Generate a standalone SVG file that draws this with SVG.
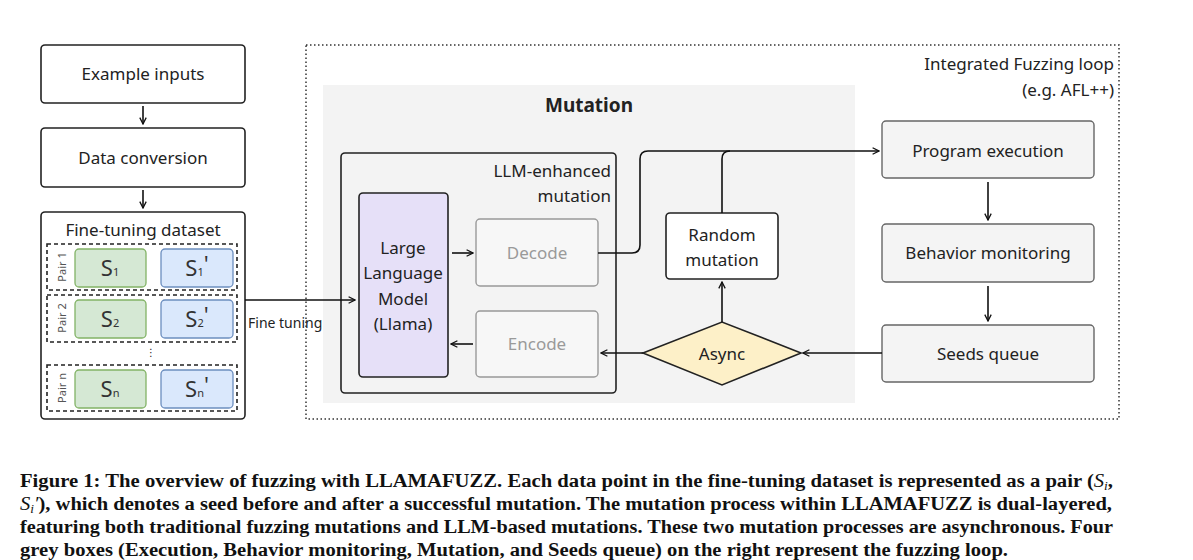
<svg xmlns="http://www.w3.org/2000/svg" width="1193" height="560" viewBox="0 0 1193 560">
<style>
text{font-family:"Noto Sans","Open Sans","DejaVu Sans",sans-serif;fill:#222}
.lbl{font-size:17px;text-anchor:middle}
.box{fill:#fff;stroke:#222;stroke-width:1.6}
.grey{fill:#f4f4f4;stroke:#666;stroke-width:1.4}
.dec{fill:#f7f7f7;stroke:#999;stroke-width:1.4}
.dectx{fill:#9a9a9a}
.green{fill:#d5e8d4;stroke:#82b366;stroke-width:1.3}
.blue{fill:#dae8fc;stroke:#6c8ebf;stroke-width:1.3}
.pair{fill:none;stroke:#222;stroke-width:1.6;stroke-dasharray:4 3}
.pl{font-size:11px;fill:#555;text-anchor:middle}
.s{font-size:22px;text-anchor:middle;fill:#333}
.sub{font-size:11px}
.line{fill:none;stroke:#111;stroke-width:1.6}
.cap{font-family:"Liberation Serif","Times New Roman",serif;font-weight:bold;font-size:18.5px;fill:#111}
</style>
<defs>
<marker id="ah" viewBox="0 0 10 10" refX="9" refY="5" markerWidth="8" markerHeight="8" markerUnits="userSpaceOnUse" orient="auto">
<path d="M1,1 L9,5 L1,9" fill="none" stroke="#111" stroke-width="1.6"/>
</marker>
</defs>
<rect width="1193" height="560" fill="#fff"/>

<g id="fuzzing-loop">
<rect x="306" y="45" width="813" height="374" fill="none" stroke="#333" stroke-width="1.5" stroke-dasharray="1.5 2.5"/>
<text x="1114" y="70" font-size="17" text-anchor="end">Integrated Fuzzing loop</text>
<text x="1114" y="96" font-size="17" text-anchor="end">(e.g. AFL++)</text>
</g>

<g id="mutation">
<rect x="323" y="85" width="532" height="318" fill="#f3f3f3"/>
<text x="589" y="112" font-size="19" font-weight="bold" text-anchor="middle">Mutation</text>
</g>

<g id="llm-enhanced">
<rect x="341" y="153" width="275" height="240" rx="4" style="fill:none;stroke:#222;stroke-width:1.6"/>
<text x="611" y="177" font-size="17" text-anchor="end">LLM-enhanced</text>
<text x="611" y="202" font-size="17" text-anchor="end">mutation</text>
</g>

<g id="example-inputs">
<rect x="41" y="45" width="204" height="58" rx="4" class="box"/>
<text x="143" y="80" class="lbl">Example inputs</text>
</g>
<g id="data-conversion">
<rect x="41" y="128" width="204" height="59" rx="4" class="box"/>
<text x="143" y="164" class="lbl">Data conversion</text>
</g>

<g id="fine-tuning-dataset">
<rect x="41" y="212" width="204" height="207" rx="4" class="box"/>
<text x="143" y="236" class="lbl">Fine-tuning dataset</text>
<rect x="47" y="244" width="190" height="46" class="pair"/>
<text transform="translate(66,267) rotate(-90)" class="pl">Pair 1</text>
<rect x="75" y="249" width="71" height="38" rx="4" class="green"/>
<text x="110" y="276" class="s">S<tspan class="sub">1</tspan></text>
<rect x="161" y="249" width="72" height="38" rx="4" class="blue"/>
<text x="197" y="276" class="s">S<tspan class="sub">1</tspan><tspan dy="-4">'</tspan></text>

<rect x="47" y="295" width="190" height="47" class="pair"/>
<text transform="translate(66,318) rotate(-90)" class="pl">Pair 2</text>
<rect x="75" y="300" width="71" height="38" rx="4" class="green"/>
<text x="110" y="327" class="s">S<tspan class="sub">2</tspan></text>
<rect x="161" y="300" width="72" height="38" rx="4" class="blue"/>
<text x="197" y="327" class="s">S<tspan class="sub">2</tspan><tspan dy="-4">'</tspan></text>

<text x="151" y="356" font-size="10" text-anchor="middle" fill="#555">⋮</text>

<rect x="47" y="365" width="190" height="46" class="pair"/>
<text transform="translate(66,388) rotate(-90)" class="pl">Pair n</text>
<rect x="75" y="370" width="71" height="38" rx="4" class="green"/>
<text x="110" y="397" class="s">S<tspan class="sub">n</tspan></text>
<rect x="161" y="370" width="72" height="38" rx="4" class="blue"/>
<text x="197" y="397" class="s">S<tspan class="sub">n</tspan><tspan dy="-4">'</tspan></text>
</g>

<g id="llm">
<rect x="359" y="193" width="89" height="184" rx="4" fill="#e6e0f8" stroke="#222" stroke-width="1.6"/>
<text x="403" y="254" class="lbl">Large</text>
<text x="403" y="279" class="lbl">Language</text>
<text x="403" y="305" class="lbl">Model</text>
<text x="403" y="330" class="lbl">(Llama)</text>
</g>

<g id="decode">
<rect x="476" y="219" width="122" height="67" rx="4" class="dec"/>
<text x="537" y="259" class="lbl dectx">Decode</text>
</g>
<g id="encode">
<rect x="476" y="311" width="122" height="66" rx="4" class="dec"/>
<text x="537" y="350" class="lbl dectx">Encode</text>
</g>

<g id="random-mutation">
<rect x="666" y="213" width="112" height="66" rx="4" class="box"/>
<text x="722" y="241" class="lbl">Random</text>
<text x="722" y="266" class="lbl">mutation</text>
</g>

<g id="async">
<polygon points="643,353 722,322 801,353 722,385" fill="#fdf0c8" stroke="#222" stroke-width="1.6"/>
<text x="722" y="360" class="lbl">Async</text>
</g>

<g id="program-execution">
<rect x="882" y="121" width="212" height="57" rx="4" class="grey"/>
<text x="988" y="157" class="lbl">Program execution</text>
</g>
<g id="behavior-monitoring">
<rect x="882" y="224" width="212" height="58" rx="4" class="grey"/>
<text x="988" y="259" class="lbl">Behavior monitoring</text>
</g>
<g id="seeds-queue">
<rect x="882" y="325" width="212" height="57" rx="4" class="grey"/>
<text x="988" y="360" class="lbl">Seeds queue</text>
</g>

<g id="connectors">
<line x1="143" y1="106" x2="143" y2="124" class="line" marker-end="url(#ah)"/>
<line x1="143" y1="190" x2="143" y2="208" class="line" marker-end="url(#ah)"/>
<line x1="245" y1="300" x2="355" y2="300" class="line" marker-end="url(#ah)"/>
<text x="248" y="328" font-size="14">Fine tuning</text>
<line x1="452" y1="253" x2="473" y2="253" class="line" marker-end="url(#ah)"/>
<line x1="473" y1="344" x2="451" y2="344" class="line" marker-end="url(#ah)"/>
<line x1="643" y1="353" x2="601" y2="353" class="line" marker-end="url(#ah)"/>
<path d="M598,253 H632 Q640,253 640,245 V159 Q640,151 648,151 H879" class="line" marker-end="url(#ah)"/>
<path d="M722,213 V159 Q722,151 730,151" class="line"/>
<line x1="722" y1="322" x2="722" y2="282" class="line" marker-end="url(#ah)"/>
<line x1="882" y1="353" x2="803" y2="353" class="line" marker-end="url(#ah)"/>
<line x1="988" y1="182" x2="988" y2="220" class="line" marker-end="url(#ah)"/>
<line x1="988" y1="286" x2="988" y2="321" class="line" marker-end="url(#ah)"/>
</g>

<g id="caption">
<text x="20" y="487" class="cap" textLength="1093" lengthAdjust="spacingAndGlyphs">Figure 1: The overview of fuzzing with LLAMAFUZZ. Each data point in the fine-tuning dataset is represented as a pair (<tspan font-style="italic" font-weight="normal">S<tspan font-size="12" dy="3">i</tspan></tspan><tspan dy="-3">,</tspan></text>
<text x="20" y="510" class="cap" textLength="1092" lengthAdjust="spacingAndGlyphs"><tspan font-style="italic" font-weight="normal">S<tspan font-size="12" dy="3">i</tspan><tspan dy="-3">′</tspan></tspan>), which denotes a seed before and after a successful mutation. The mutation process within LLAMAFUZZ is dual-layered,</text>
<text x="20" y="533" class="cap" textLength="1093" lengthAdjust="spacingAndGlyphs">featuring both traditional fuzzing mutations and LLM-based mutations. These two mutation processes are asynchronous. Four</text>
<text x="20" y="556" class="cap" textLength="988" lengthAdjust="spacingAndGlyphs">grey boxes (Execution, Behavior monitoring, Mutation, and Seeds queue) on the right represent the fuzzing loop.</text>
</g>
</svg>
